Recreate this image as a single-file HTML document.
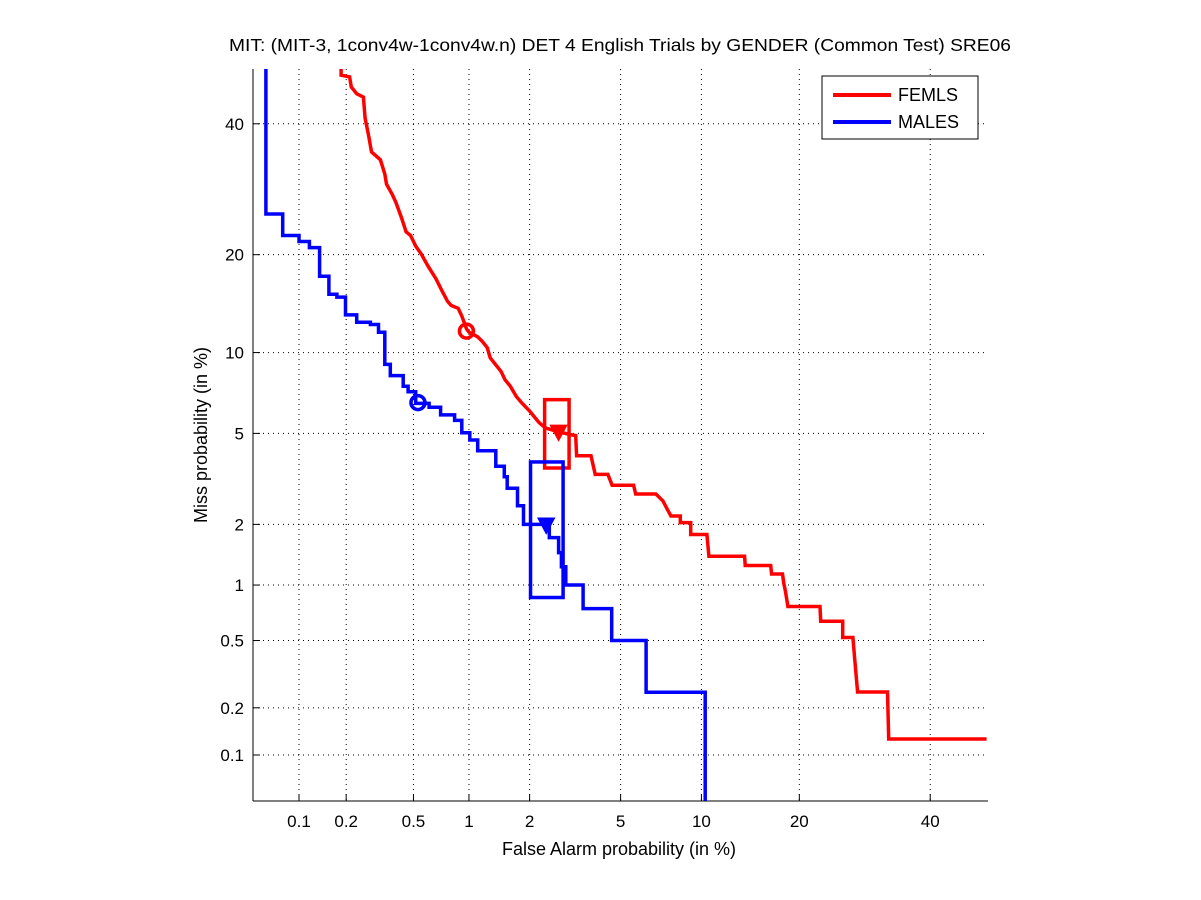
<!DOCTYPE html>
<html><head><meta charset="utf-8"><style>
html,body{margin:0;padding:0;background:#fff;}
svg{display:block;font-family:"Liberation Sans",Arial,sans-serif;}
</style></head><body>
<svg id="chart" width="1201" height="900" viewBox="0 0 1201 900" xmlns="http://www.w3.org/2000/svg">
<rect x="0" y="0" width="1201" height="900" fill="#fff"/>
<g id="grid"></g>
<g id="axes"></g>
<g id="series"></g>
<text x="620" y="51" text-anchor="middle" font-size="17.5" textLength="782" lengthAdjust="spacingAndGlyphs">MIT: (MIT-3, 1conv4w-1conv4w.n) DET 4 English Trials by GENDER (Common Test) SRE06</text>
<text x="619" y="855" text-anchor="middle" font-size="18">False Alarm probability (in %)</text>
<text x="0" y="0" transform="translate(207,435) rotate(-90)" text-anchor="middle" font-size="18">Miss probability (in %)</text>
<g>
<rect x="822" y="76" width="156" height="63" fill="#fff" stroke="#000" stroke-width="1"/>
<line x1="833" y1="95" x2="891" y2="95" stroke="#f00" stroke-width="4"/>
<text x="898" y="101" font-size="18">FEMLS</text>
<line x1="833" y1="122" x2="891" y2="122" stroke="#00f" stroke-width="4"/>
<text x="898" y="128" font-size="18">MALES</text>
</g>
</svg>
<script>
const tickValues = [0.1, 0.2, 0.5, 1, 2, 5, 10, 20, 40];
const tickLabels = ["0.1", "0.2", "0.5", "1", "2", "5", "10", "20", "40"];
const femlsFa = [0.186,0.186,0.21,0.215,0.232,0.255,0.261,0.275,0.285,0.322,0.342,0.35,0.378,0.397,0.427,0.454,0.482,0.515,0.553,0.603,0.667,0.717,0.771,0.805,0.878,0.917,0.971,1.0,1.108,1.172,1.24,1.284,1.455,1.52,1.61,1.73,1.83,2.0,2.21,2.37,2.70,3.06,3.24,3.27,3.77,3.93,4.44,4.62,5.63,5.74,6.86,7.29,7.6,7.8,8.43,8.43,9.18,9.18,10.44,10.6,13.84,13.9,16.6,16.7,17.95,18.1,18.3,18.6,22.7,22.8,25.9,25.9,27.4,27.7,28.1,32.8,33.0,50];
const femlsMiss = [50,48.6,48.3,46.5,45.3,44.7,41.0,37.7,35.2,33.9,31.6,30.0,28.4,27.2,25.0,23.0,22.5,21.1,20.1,18.6,17.1,15.8,14.65,14.24,13.95,13.2,12.0,11.7,11.3,10.9,10.4,9.59,8.59,8.03,7.63,6.95,6.6,6.13,5.53,5.26,5.08,4.95,4.9,4.05,4.05,3.37,3.37,3.02,3.02,2.76,2.76,2.57,2.33,2.19,2.19,2.04,2.04,1.79,1.79,1.4,1.4,1.26,1.26,1.14,1.14,1.02,0.93,0.77,0.77,0.64,0.64,0.52,0.52,0.38,0.25,0.25,0.127,0.127];
const malesFa = [0.06,0.06,0.078,0.078,0.1,0.1,0.117,0.117,0.136,0.136,0.156,0.156,0.175,0.175,0.198,0.198,0.232,0.232,0.281,0.281,0.314,0.314,0.342,0.342,0.368,0.368,0.437,0.437,0.466,0.466,0.515,0.515,0.611,0.611,0.707,0.707,0.84,0.84,0.917,0.917,1.01,1.01,1.11,1.11,1.37,1.37,1.51,1.51,1.56,1.56,1.75,1.75,1.87,1.87,2.47,2.47,2.72,2.72,2.8,2.8,2.93,2.93,3.49,3.49,4.6,4.6,6.3,6.3,10.3,10.3];
const malesMiss = [50,25.5,25.5,22.5,22.5,21.7,21.7,20.9,20.9,17.4,17.4,15.4,15.4,15.1,15.1,13.3,13.3,12.6,12.6,12.4,12.4,11.7,11.7,9.1,9.1,8.3,8.3,7.6,7.6,7.25,7.25,6.55,6.55,6.33,6.33,5.92,5.92,5.63,5.63,5.03,5.03,4.7,4.7,4.25,4.25,3.65,3.65,3.29,3.29,2.93,2.93,2.44,2.44,2.0,2.0,1.73,1.73,1.46,1.46,1.24,1.24,1.0,1.0,0.75,0.75,0.5,0.5,0.249,0.249,0.049];
const actualDcfFa = [0.97, 0.53];
const actualDcfMiss = [11.8, 6.6];
const minDcfFa = [2.72, 2.39];
const minDcfMiss = [5.05, 1.98];
const boxFa = [[2.35, 3.03], [2.02, 2.85]];
const boxMiss = [[6.77, 3.59], [3.81, 0.86]];
const seriesColors = ["#f00", "#00f"];
const seriesNames = ["femls", "males"];

function probit(p){
  const a=[-3.969683028665376e+01,2.209460984245205e+02,-2.759285104469687e+02,1.383577518672690e+02,-3.066479806614716e+01,2.506628277459239e+00];
  const b=[-5.447609879822406e+01,1.615858368580409e+02,-1.556989798598866e+02,6.680131188771972e+01,-1.328068155288572e+01];
  const c=[-7.784894002430293e-03,-3.223964580411365e-01,-2.400758277161838e+00,-2.549732539343734e+00,4.374664141464968e+00,2.938163982698783e+00];
  const d=[7.784695709041462e-03,3.224671290700398e-01,2.445134137142996e+00,3.754408661907416e+00];
  const pl=0.02425;let q,r;
  if(p<pl){q=Math.sqrt(-2*Math.log(p));return (((((c[0]*q+c[1])*q+c[2])*q+c[3])*q+c[4])*q+c[5])/((((d[0]*q+d[1])*q+d[2])*q+d[3])*q+1);}
  if(p<=1-pl){q=p-0.5;r=q*q;return (((((a[0]*r+a[1])*r+a[2])*r+a[3])*r+a[4])*r+a[5])*q/(((((b[0]*r+b[1])*r+b[2])*r+b[3])*r+b[4])*r+1);}
  q=Math.sqrt(-2*Math.log(1-p));return -(((((c[0]*q+c[1])*q+c[2])*q+c[3])*q+c[4])*q+c[5])/((((d[0]*q+d[1])*q+d[2])*q+d[3])*q+1);
}
const SCALE=222.5, Z0=probit(0.001);
const L=253,R=988,T=69,B=801;
function xPos(pct){return 299+(probit(pct/100)-Z0)*SCALE;}
function yPos(pct){return 755-(probit(pct/100)-Z0)*SCALE;}
function clampX(v){return Math.max(L,Math.min(R,v));}
function clampY(v){return Math.max(T,Math.min(B,v));}

const NS="http://www.w3.org/2000/svg";
function mk(tag,parent,attrs){const e=document.createElementNS(NS,tag);for(const k in attrs)e.setAttribute(k,attrs[k]);parent.appendChild(e);return e;}
const grid=document.getElementById('grid'), axes=document.getElementById('axes'), series=document.getElementById('series');

tickValues.forEach((v,i)=>{
  const x=xPos(v), y=yPos(v);
  const gx=mk('line',grid,{x1:x,y1:T,x2:x,y2:B,stroke:'#000','stroke-width':1,'stroke-dasharray':'1,4'});
  
  
  const gy=mk('line',grid,{x1:L,y1:y,x2:R,y2:y,stroke:'#000','stroke-width':1,'stroke-dasharray':'1,4'});
  
  
  mk('line',axes,{x1:x,y1:B,x2:x,y2:B-7,stroke:'#000','stroke-width':1});
  mk('line',axes,{x1:L,y1:y,x2:L+7,y2:y,stroke:'#000','stroke-width':1});
  const tx=mk('text',axes,{x:x,y:B+26,'text-anchor':'middle','font-size':17});
  tx.textContent=tickLabels[i];
  
  
  const ty=mk('text',axes,{x:L-9,y:y+6,'text-anchor':'end','font-size':17});
  ty.textContent=tickLabels[i];
  
  
});
const xa=mk('line',axes,{x1:L,y1:B,x2:R,y2:B,stroke:'#000','stroke-width':1});


const ya=mk('line',axes,{x1:L,y1:T,x2:L,y2:B,stroke:'#000','stroke-width':1});



const clip=mk('clipPath',document.getElementById('chart'),{id:'plotclip'});
mk('rect',clip,{x:L,y:T,width:R-L,height:B-T});
const faData=[femlsFa,malesFa], missData=[femlsMiss,malesMiss];
for(let s=0;s<2;s++){
  const pts=faData[s].map((f,i)=>clampX(xPos(f)).toFixed(1)+','+clampY(yPos(missData[s][i])).toFixed(1)).join(' ');
  const pl=mk('polyline',series,{points:pts,fill:'none',stroke:seriesColors[s],'stroke-width':3.5,'stroke-linejoin':'miter','clip-path':'url(#plotclip)'});
  
  
  const bx0=xPos(boxFa[s][0]), bx1=xPos(boxFa[s][1]), by0=yPos(boxMiss[s][0]), by1=yPos(boxMiss[s][1]);
  const bx=mk('rect',series,{x:bx0,y:by0,width:bx1-bx0,height:by1-by0,fill:'none',stroke:seriesColors[s],'stroke-width':3.5});
  
  
  const cx=xPos(actualDcfFa[s]), cy=yPos(actualDcfMiss[s]);
  const c=mk('circle',series,{cx:cx,cy:cy,r:7,fill:'none',stroke:seriesColors[s],'stroke-width':3.5});
  
  
  const tx=xPos(minDcfFa[s]), ty=yPos(minDcfMiss[s]);
  const tr=mk('polygon',series,{points:`${tx-8},${ty-7} ${tx+8},${ty-7} ${tx},${ty+8}`,fill:seriesColors[s],stroke:seriesColors[s],'stroke-width':1.5});
  
  
}
</script>
</body></html>
